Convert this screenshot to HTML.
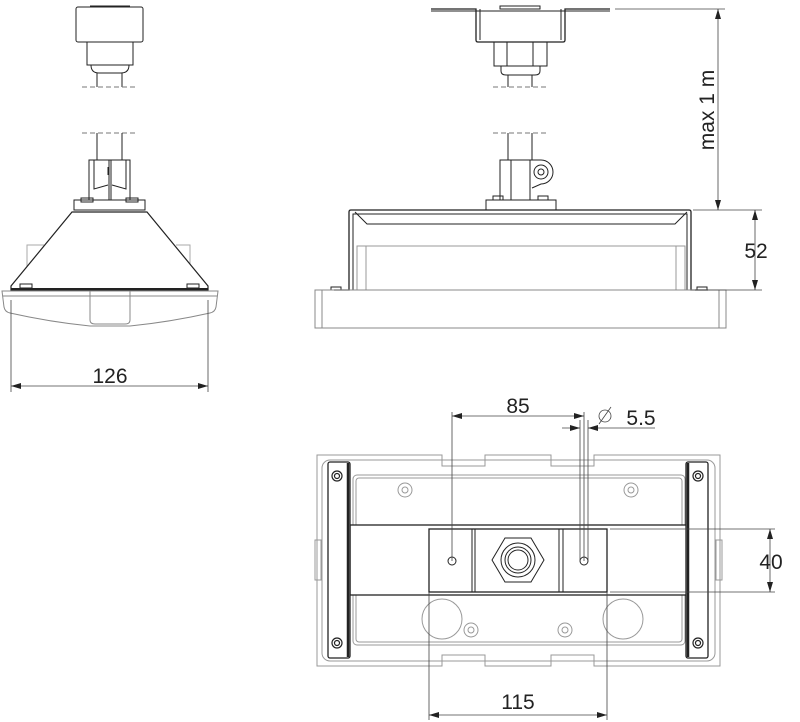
<!DOCTYPE html>
<html><head><meta charset="utf-8"><style>html,body{margin:0;padding:0;background:#fff}svg{display:block}text{font-family:"Liberation Sans","DejaVu Sans",sans-serif;fill:#222}</style></head>
<body>
<svg width="800" height="722" viewBox="0 0 800 722" xmlns="http://www.w3.org/2000/svg">
<defs>
<marker id="a" viewBox="0 0 10 6" refX="10" refY="3" markerWidth="10" markerHeight="6" orient="auto-start-reverse" markerUnits="userSpaceOnUse"><path d="M0,0L10,3L0,6z" fill="#222"/></marker>
</defs>
<g fill="none" stroke="#222" stroke-width="1">
<!-- LEFT VIEW -->
<rect x="76" y="7" width="67" height="35" rx="2" fill="#fff"/>
<line x1="90" y1="6" x2="130" y2="6"/>
<rect x="87" y="42" width="46" height="23"/>
<path d="M91,65 Q91,73 99,73 L121,73 Q129,73 129,65"/>
<line x1="97" y1="73" x2="97" y2="87"/><line x1="122" y1="73" x2="122" y2="87"/>
<line x1="82" y1="87" x2="137" y2="87" stroke-dasharray="5,3" stroke="#777"/>
<line x1="82" y1="133" x2="137" y2="133" stroke-dasharray="5,3" stroke="#777"/>
<line x1="97" y1="133" x2="97" y2="160"/><line x1="122" y1="133" x2="122" y2="160"/>
<rect x="89" y="160" width="41" height="40"/>
<line x1="109" y1="160" x2="109" y2="200"/><line x1="111" y1="160" x2="111" y2="200"/>
<path d="M94,160 L94,189 L108,185 M112,185 L126,189 L126,160"/>
<line x1="108" y1="167" x2="108" y2="175"/>
<g stroke="#aaa"><path d="M27,290 L27,245 L44,245 M190,290 L190,245 L176,245"/></g>
<rect x="74" y="200" width="71" height="10" fill="#fff"/>
<path d="M72,212 L147,212 L208,286 L208,290 L11,290 L11,286 Z" fill="#fff" stroke-width="1.2"/>
<line x1="11" y1="289" x2="208" y2="289" stroke-width="2"/>
<rect x="20" y="284" width="12" height="4"/><rect x="187" y="284" width="12" height="4"/>
<rect x="81" y="198" width="12" height="4"/><rect x="126" y="198" width="12" height="4"/>
<g stroke="#888"><path d="M2,291 L218,291 L216,307 Q215,312 210,313 Q170,322 130,326 L90,326 Q50,322 10,313 Q5,312 4,307 Z" fill="#fff"/>
<line x1="3" y1="296" x2="217" y2="296"/>
<path d="M90,291 L90,320 Q90,324 95,324 L125,324 Q130,324 130,320 L130,291"/></g>
<!-- dim 126 -->
<g stroke="#444" stroke-width="0.8"><line x1="11" y1="300" x2="11" y2="392"/><line x1="208" y1="300" x2="208" y2="392"/>
<line x1="11" y1="386" x2="208" y2="386" marker-start="url(#a)" marker-end="url(#a)"/></g>

<!-- SIDE VIEW -->
<path d="M431,9 L476,9 L476,40 Q476,42 478,42 L563,42 Q565,42 565,40 L565,9 L610,9" stroke-width="1.3"/>
<line x1="431" y1="11" x2="610" y2="11"/>
<line x1="480" y1="9" x2="480" y2="40"/><line x1="561" y1="9" x2="561" y2="40"/>
<rect x="500" y="6" width="40" height="3"/>
<rect x="494" y="42" width="53" height="24"/>
<line x1="507" y1="42" x2="507" y2="66"/><line x1="533" y1="42" x2="533" y2="66"/>
<path d="M501,66 L501,71 Q501,75 506,75 L535,75 Q540,75 540,71 L540,66"/>
<line x1="508" y1="75" x2="508" y2="87"/><line x1="532" y1="75" x2="532" y2="87"/>
<line x1="493" y1="87" x2="548" y2="87" stroke-dasharray="5,3" stroke="#777"/>
<line x1="493" y1="133" x2="548" y2="133" stroke-dasharray="5,3" stroke="#777"/>
<line x1="508" y1="133" x2="508" y2="160"/><line x1="532" y1="133" x2="532" y2="160"/>
<rect x="500" y="160" width="30" height="40"/>
<line x1="511" y1="160" x2="511" y2="200"/>
<path d="M530,160 L541,160 A12,12 0 0 1 541,184 L532,188"/>
<circle cx="541" cy="172" r="7"/><circle cx="541" cy="172" r="3"/>
<rect x="486" y="200" width="70" height="10"/>
<rect x="493" y="196" width="10" height="4"/><rect x="538" y="196" width="10" height="4"/>
<g stroke="#999"><rect x="357" y="246" width="328" height="44"/><line x1="366" y1="246" x2="366" y2="290"/><line x1="676" y1="246" x2="676" y2="290"/></g>
<path d="M334,290 L349,290 L349,212 Q349,210 351,210 L689,210 Q691,210 691,212 L691,290 L708,290" stroke-width="1.3"/>
<path d="M353,290 L353,214 L687,214 L687,290"/>
<path d="M355,212 L367,224 L675,224 L687,212"/>
<rect x="331" y="287" width="10" height="3"/><rect x="697" y="287" width="10" height="3"/>
<g stroke="#888"><rect x="315" y="290" width="411" height="38"/><line x1="322" y1="290" x2="322" y2="328"/><line x1="719" y1="290" x2="719" y2="328"/></g>
<!-- dims side -->
<g stroke="#444" stroke-width="0.8"><line x1="615" y1="9" x2="725" y2="9"/><line x1="693" y1="210" x2="762" y2="210"/><line x1="695" y1="290" x2="762" y2="290"/>
<line x1="718" y1="9" x2="718" y2="210" marker-start="url(#a)" marker-end="url(#a)"/>
<line x1="755" y1="210" x2="755" y2="290" marker-start="url(#a)" marker-end="url(#a)"/></g>

<!-- BOTTOM VIEW -->
<g stroke="#999">
<path d="M317,455 L442,455 L442,466 L485,466 L485,455 L551,455 L551,466 L594,466 L594,455 L720,455 L720,666 L594,666 L594,655 L551,655 L551,666 L485,666 L485,655 L442,655 L442,666 L317,666 Z"/>
<rect x="322" y="460" width="393" height="201" rx="8"/>
<rect x="353" y="475" width="332" height="170" rx="4"/>
<rect x="356" y="478" width="326" height="164" rx="3"/>
<rect x="315" y="540" width="6" height="40"/><rect x="716" y="540" width="6" height="40"/>
<circle cx="405" cy="490" r="7"/><circle cx="405" cy="490" r="3"/>
<circle cx="631" cy="490" r="7"/><circle cx="631" cy="490" r="3"/>
<circle cx="471" cy="630" r="7"/><circle cx="471" cy="630" r="3"/>
<circle cx="565" cy="630" r="7"/><circle cx="565" cy="630" r="3"/>
<circle cx="442" cy="619" r="20"/><circle cx="623" cy="619" r="20"/>
</g>
<rect x="350" y="525" width="337" height="70" fill="#fff" stroke-width="1.3"/>
<rect x="429" y="529" width="178" height="63" fill="#fff" stroke-width="1.3"/>
<line x1="472" y1="529" x2="472" y2="592"/><line x1="475" y1="529" x2="475" y2="592"/>
<line x1="559" y1="529" x2="559" y2="592"/><line x1="563" y1="529" x2="563" y2="592"/>
<polygon points="505,538 531,538 544,560 531,582 505,582 492,560"/>
<circle cx="518" cy="560" r="17"/><circle cx="518" cy="560" r="13"/><circle cx="518" cy="560" r="10"/>
<circle cx="452" cy="561" r="4"/><circle cx="584" cy="561" r="4"/>
<rect x="328" y="462" width="22" height="196" rx="2" fill="#fff" stroke-width="1.3"/>
<rect x="686" y="462" width="22" height="196" rx="2" fill="#fff" stroke-width="1.3"/>
<line x1="348" y1="463" x2="348" y2="657" stroke-width="2.5"/>
<line x1="688" y1="463" x2="688" y2="657" stroke-width="2.5"/>
<g stroke-width="1.2"><circle cx="337" cy="476" r="5"/><circle cx="337" cy="476" r="2.5"/>
<circle cx="337" cy="643" r="5"/><circle cx="337" cy="643" r="2.5"/>
<circle cx="698" cy="476" r="5"/><circle cx="698" cy="476" r="2.5"/>
<circle cx="698" cy="643" r="5"/><circle cx="698" cy="643" r="2.5"/></g>
<!-- dims bottom -->
<g stroke="#444" stroke-width="0.8">
<line x1="452" y1="412" x2="452" y2="561"/><line x1="584" y1="412" x2="584" y2="561"/>
<line x1="580" y1="420" x2="580" y2="561"/><line x1="588" y1="420" x2="588" y2="561"/>
<line x1="452" y1="416" x2="584" y2="416" marker-start="url(#a)" marker-end="url(#a)"/>
<line x1="562" y1="428" x2="580" y2="428" marker-end="url(#a)"/>
<line x1="655" y1="428" x2="588" y2="428" marker-end="url(#a)"/>
<circle cx="605" cy="416" r="6"/><line x1="599" y1="424" x2="611" y2="407"/>
<line x1="610" y1="529" x2="775" y2="529"/><line x1="610" y1="592" x2="775" y2="592"/>
<line x1="770" y1="529" x2="770" y2="592" marker-start="url(#a)" marker-end="url(#a)"/>
<line x1="429" y1="592" x2="429" y2="720"/><line x1="607" y1="592" x2="607" y2="720"/>
<line x1="429" y1="715" x2="607" y2="715" marker-start="url(#a)" marker-end="url(#a)"/>
</g>
</g>
<text x="110" y="383" font-size="21" text-anchor="middle">126</text>
<text x="756" y="258" font-size="21" text-anchor="middle">52</text>
<text x="714" y="110" font-size="21" text-anchor="middle" transform="rotate(-90 714 110)">max 1 m</text>
<text x="518" y="413" font-size="21" text-anchor="middle">85</text>
<text x="641" y="425" font-size="21" text-anchor="middle">5.5</text>
<text x="771" y="569" font-size="21" text-anchor="middle">40</text>
<text x="518" y="709" font-size="21" text-anchor="middle">115</text>
</svg>
</body></html>
